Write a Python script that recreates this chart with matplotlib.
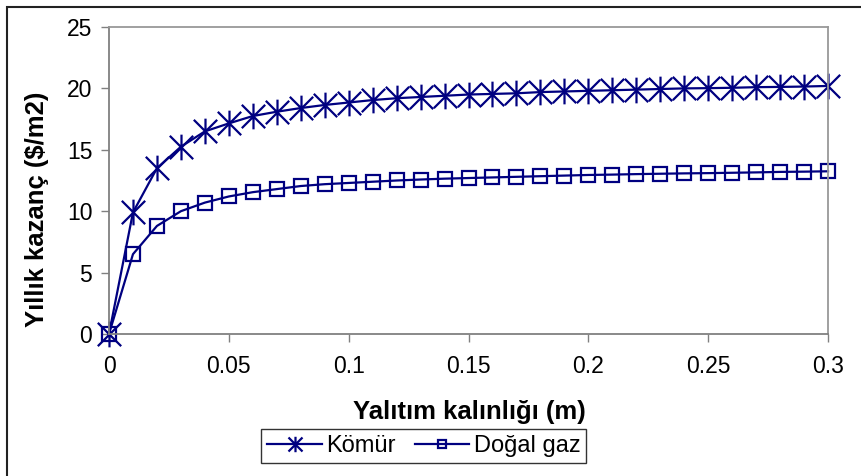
import matplotlib
matplotlib.use("Agg")
import matplotlib.pyplot as plt
from matplotlib.path import Path
from matplotlib.patches import Rectangle

plt.rcParams['font.family'] = ['Liberation Sans', 'DejaVu Sans']

kalinlik = [i / 100 for i in range(31)]
komur = [0, 9.9, 13.5, 15.25, 16.5, 17.15, 17.75, 18.1, 18.4, 18.65, 18.85,
         19.05, 19.2, 19.3, 19.4, 19.5, 19.55, 19.6, 19.7, 19.75, 19.8,
         19.85, 19.9, 19.95, 20.0, 20.02, 20.05, 20.1, 20.12, 20.15, 20.2]
dogalgaz = [0, 6.5, 8.8, 10.0, 10.7, 11.2, 11.55, 11.8, 12.05, 12.2, 12.3,
            12.4, 12.5, 12.58, 12.65, 12.7, 12.75, 12.8, 12.85, 12.9, 12.95,
            12.98, 13.02, 13.05, 13.08, 13.1, 13.13, 13.16, 13.2, 13.22, 13.25]
xticks = [0, 0.05, 0.1, 0.15, 0.2, 0.25, 0.3]
xticklabels = ['0', '0.05', '0.1', '0.15', '0.2', '0.25', '0.3']
yticks = [0, 5, 10, 15, 20, 25]

navy = '#000080'
gray = '#808080'

# star marker like excel: an X plus a vertical bar
star = Path([(-1, -1), (1, 1), (-1, 1), (1, -1), (0, -1.1), (0, 1.1)],
            [Path.MOVETO, Path.LINETO, Path.MOVETO, Path.LINETO,
             Path.MOVETO, Path.LINETO])

fig = plt.figure(figsize=(8.61, 4.76), dpi=100)
ax = fig.add_axes([0.1266, 0.2983, 0.9617 - 0.1266, 0.9433 - 0.2983])

ax.plot(kalinlik, komur, color=navy, lw=1.6, marker=star, markersize=18.5,
        markeredgewidth=1.6, markeredgecolor=navy, label='Kömür', clip_on=False)
ax.plot(kalinlik, dogalgaz, color=navy, lw=1.6, marker='s', markersize=10,
        markeredgewidth=1.6, markerfacecolor='none', markeredgecolor=navy,
        label='Doğal gaz', clip_on=False)

ax.set_xlim(0, 0.3)
ax.set_ylim(0, 25)
ax.set_xticks(xticks)
ax.set_xticklabels(xticklabels)
ax.set_yticks(yticks)
ax.tick_params(direction='out', length=6, width=1, color=gray, labelsize=16.5)
ax.tick_params(axis='x', pad=9)
ax.tick_params(axis='y', pad=6)
for s in ax.spines.values():
    s.set_color(gray)
    s.set_linewidth(1.3)
ax.spines['top'].set_color('#999999')
ax.spines['right'].set_color('#999999')

ax.set_xlabel('Yalıtım kalınlığı (m)', fontsize=18.5, fontweight='bold')
ax.set_ylabel('Yıllık kazanç ($/m2)', fontsize=18.5, fontweight='bold')
ax.xaxis.set_label_coords(0.501, -0.254)
ax.yaxis.set_label_coords(-0.100, 0.407)
ax.xaxis.label.set_va('center')
ax.yaxis.label.set_va('center')

leg = ax.legend(loc='upper center', bbox_to_anchor=(0.438, -0.309), ncol=2,
                fontsize=17, frameon=True, fancybox=False, markerscale=0.6,
                handlelength=2.3, handletextpad=0.2, columnspacing=0.8,
                borderpad=0.25, borderaxespad=0)
leg.get_frame().set_edgecolor('black')
leg.get_frame().set_linewidth(1)

# outer border: only top and left edges fall inside the picture
fig.patches.append(Rectangle((0.0081, -0.2), 1.2, 0.9853 + 0.2,
                             transform=fig.transFigure, fill=False,
                             edgecolor='#222222', lw=1.5))

fig.savefig('out.png', dpi=100)
